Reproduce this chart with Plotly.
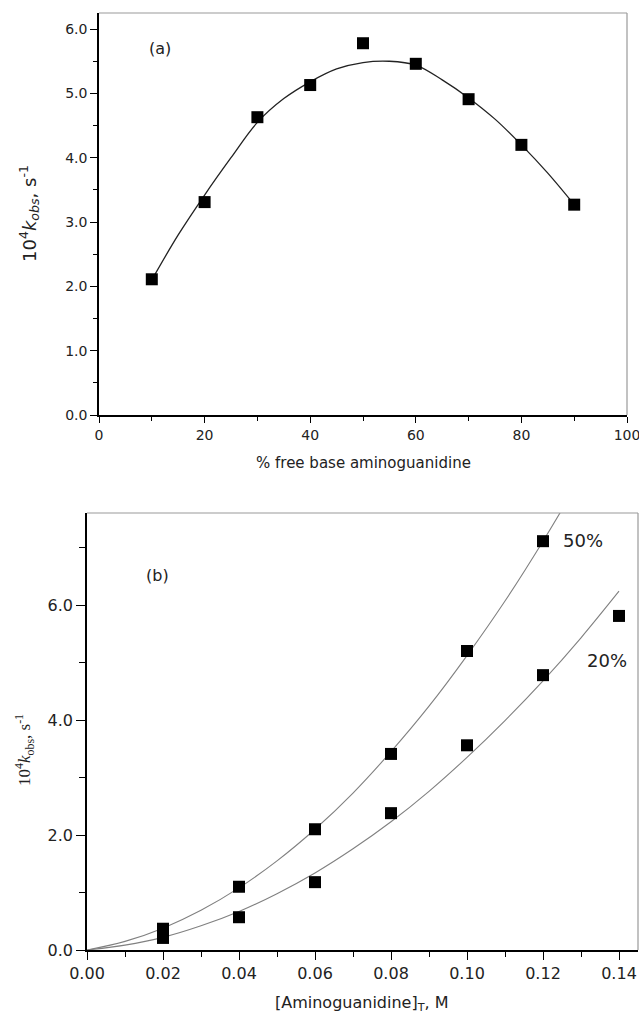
import plotly.graph_objects as go

# ---- Panel (a) data ----
pct_free_base = [10, 20, 30, 40, 50, 60, 70, 80, 90]
kobs_a = [2.11, 3.31, 4.63, 5.13, 5.78, 5.46, 4.91, 4.20, 3.27]
# fitted curve of panel (a)
fit_a_x = [10, 15, 20, 25, 30, 35, 40, 45, 50, 55, 60, 65, 70, 75, 80, 85, 90]
fit_a_y = [2.10, 2.80, 3.42, 4.00, 4.55, 4.92, 5.18, 5.38, 5.48, 5.50, 5.44, 5.21, 4.93, 4.60, 4.20, 3.76, 3.27]

# ---- Panel (b) data ----
amg_conc = [0.02, 0.04, 0.06, 0.08, 0.10, 0.12, 0.14]
kobs_50 = [0.37, 1.10, 2.10, 3.41, 5.20, 7.11]
kobs_20 = [0.21, 0.57, 1.18, 2.38, 3.56, 4.78, 5.81]
# fitted curves of panel (b)
fit_b_x = [0, 0.01, 0.02, 0.03, 0.04, 0.05, 0.06, 0.07, 0.08, 0.09, 0.10, 0.11, 0.12, 0.13, 0.14]
fit_50_y = [0, 0.15, 0.38, 0.69, 1.08, 1.55, 2.10, 2.73, 3.45, 4.24, 5.12, 6.07, 7.11, 8.23, 9.43]
fit_20_y = [0, 0.085, 0.22, 0.42, 0.67, 0.98, 1.34, 1.76, 2.23, 2.76, 3.35, 3.99, 4.68, 5.43, 6.24]

W, H = 639, 1020
FONT = "DejaVu Sans, Verdana, sans-serif"
SERIF = "Liberation Serif, Times New Roman, serif"


def px_x(x):
    return x / W


def px_y(y):
    return 1 - y / H


fig = go.Figure()
mk = dict(symbol="square", size=12, color="black")

fig.add_trace(go.Scatter(x=fit_a_x, y=fit_a_y, mode="lines",
                         line=dict(color="#222222", width=1.3, shape="spline", smoothing=1.0),
                         xaxis="x", yaxis="y", hoverinfo="skip"))
fig.add_trace(go.Scatter(x=pct_free_base, y=kobs_a, mode="markers", marker=mk,
                         xaxis="x", yaxis="y"))

fig.add_trace(go.Scatter(x=fit_b_x, y=fit_50_y, mode="lines",
                         line=dict(color="#808080", width=1.1, shape="spline"),
                         xaxis="x2", yaxis="y2", hoverinfo="skip"))
fig.add_trace(go.Scatter(x=fit_b_x, y=fit_20_y, mode="lines",
                         line=dict(color="#808080", width=1.1, shape="spline"),
                         xaxis="x2", yaxis="y2", hoverinfo="skip"))
fig.add_trace(go.Scatter(x=amg_conc[:len(kobs_50)], y=kobs_50, mode="markers", marker=mk,
                         xaxis="x2", yaxis="y2"))
fig.add_trace(go.Scatter(x=amg_conc, y=kobs_20, mode="markers", marker=mk,
                         xaxis="x2", yaxis="y2"))

ax_common = dict(showgrid=False, zeroline=False, showline=True, linecolor="black",
                 linewidth=1.5, ticks="outside", tickcolor="black", tickwidth=1.3,
                 automargin=False, ticklabeloverflow="allow")

fig.update_layout(
    template="none",
    width=W, height=H, showlegend=False,
    margin=dict(l=0, r=0, t=0, b=0, autoexpand=False),
    paper_bgcolor="white", plot_bgcolor="white",
    font=dict(family=FONT, color="#222222"),
    xaxis=dict(**ax_common, domain=[px_x(99), px_x(627)], range=[0, 100],
               tickvals=[0, 20, 40, 60, 80, 100], ticklen=6,
               tickfont=dict(size=14, family=FONT),
               minor=dict(tickvals=[10, 30, 50, 70, 90], ticklen=4, ticks="outside",
                          tickcolor="black", tickwidth=1.2),
               anchor="y"),
    yaxis=dict(**ax_common, domain=[px_y(415), px_y(13)], range=[0, 6.25],
               tickvals=[0, 1, 2, 3, 4, 5, 6], tickformat=".1f", ticklen=7,
               tickfont=dict(size=14, family=FONT),
               minor=dict(tickvals=[0.5, 1.5, 2.5, 3.5, 4.5, 5.5], ticklen=4, ticks="outside",
                          tickcolor="black", tickwidth=1.2),
               anchor="x"),
    xaxis2=dict(**ax_common, domain=[px_x(87), px_x(638)], range=[0, 0.145],
                tickvals=[0, 0.02, 0.04, 0.06, 0.08, 0.10, 0.12, 0.14], tickformat=".2f",
                ticklen=8, tickfont=dict(size=16, family=FONT),
                minor=dict(tickvals=[0.01, 0.03, 0.05, 0.07, 0.09, 0.11, 0.13], ticklen=5,
                           ticks="outside", tickcolor="black", tickwidth=1.2),
                anchor="y2"),
    yaxis2=dict(**ax_common, domain=[px_y(950), px_y(513)], range=[0, 7.6],
                tickvals=[0, 2, 4, 6], tickformat=".1f", ticklen=9,
                tickfont=dict(size=16, family=FONT),
                minor=dict(tickvals=[1, 3, 5, 7], ticklen=6, ticks="outside",
                           tickcolor="black", tickwidth=1.2),
                anchor="x2"),
)

# gray top/right borders
for xr, yr in [("x domain", "y domain"), ("x2 domain", "y2 domain")]:
    fig.add_shape(type="line", xref=xr, yref=yr, x0=0, x1=1, y0=1, y1=1,
                  line=dict(color="#999999", width=1.2))
    fig.add_shape(type="line", xref=xr, yref=yr, x0=1, x1=1, y0=0, y1=1,
                  line=dict(color="#999999", width=1.2))

ann = [
    dict(text="(a)", x=px_x(160), y=px_y(48), font=dict(size=16)),
    dict(text="(b)", x=px_x(157), y=px_y(575), font=dict(size=16)),
    dict(text="50%", x=px_x(583), y=px_y(540), font=dict(size=18)),
    dict(text="20%", x=px_x(607), y=px_y(660), font=dict(size=18)),
    dict(text="% free base aminoguanidine", x=px_x(363), y=px_y(463), font=dict(size=15)),
    dict(text="[Aminoguanidine]<sub>T</sub>, M", x=px_x(362), y=px_y(1003), font=dict(size=16)),
    dict(text="10<sup>4</sup><i>k</i><sub><i>obs</i></sub>, s<sup>-1</sup>", x=px_x(29), y=px_y(214),
         font=dict(size=18), textangle=-90),
    dict(text="10<sup>4</sup><i>k</i><sub>obs</sub>, s<sup>-1</sup>", x=px_x(24), y=px_y(750),
         font=dict(size=17, family=SERIF), textangle=-90),
]
for a in ann:
    fig.add_annotation(xref="paper", yref="paper", showarrow=False,
                       xanchor="center", yanchor="middle", **a)

fig.write_html("out.html")
